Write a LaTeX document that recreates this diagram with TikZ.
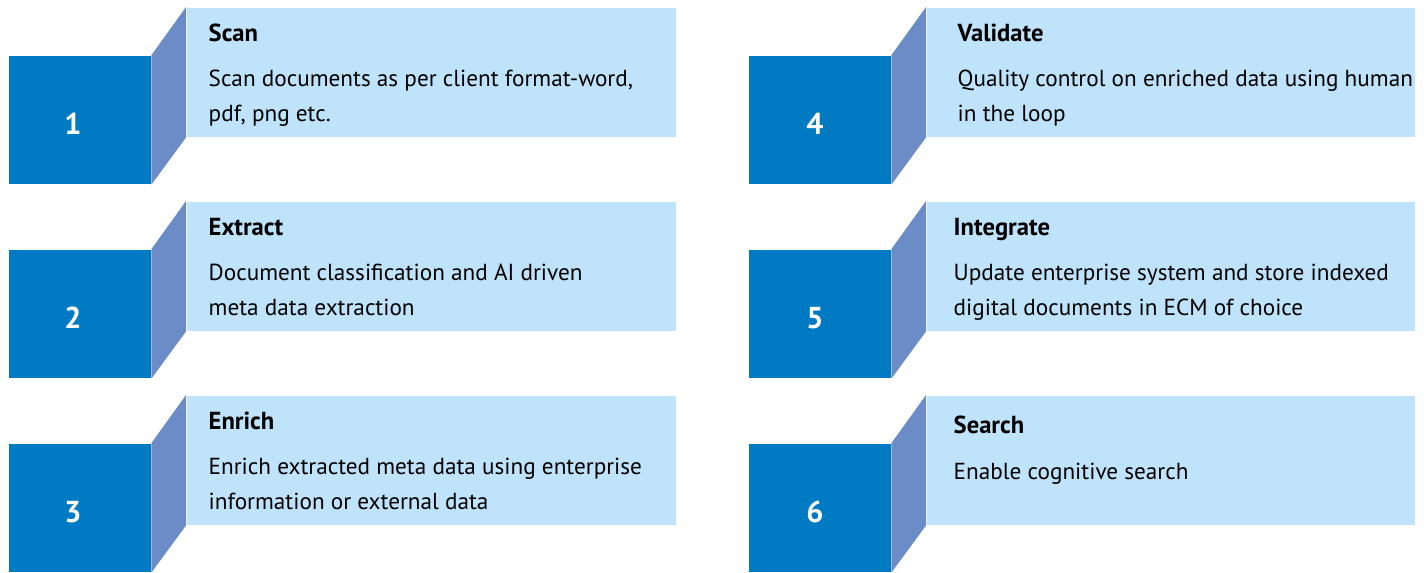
\documentclass[tikz,border=0pt]{standalone}
\usepackage{fontspec}
\setmainfont{PT Sans}
\usetikzlibrary{positioning}
\definecolor{step_blue}{RGB}{0, 122, 194}
\definecolor{side_blue}{RGB}{107, 140, 198}
\definecolor{pale_blue}{RGB}{190, 227, 251}

\begin{document}
\begin{tikzpicture}[
    x=0.01cm, y=-0.01cm,
    stepbox/.style={
        rectangle,
        fill=step_blue,
        minimum width=1.42cm,
        minimum height=1.28cm,
        inner sep=0pt,
        anchor=north west
    },
    panel/.style={
        rectangle,
        fill=pale_blue,
        minimum width=#1,
        minimum height=1.29cm,
        inner sep=0pt,
        anchor=north west
    },
    number/.style={
        text=white,
        inner sep=0pt,
        font=\bfseries\fontsize{8.6}{10}\selectfont
    },
    title/.style={
        anchor=base west,
        inner sep=0pt,
        font=\bfseries\fontsize{7.0}{9.7}\selectfont
    },
    % base of a two-line body is its last line
    body/.style={
        anchor=base west,
        inner sep=0pt,
        align=left,
        font=\fontsize{6.6}{9.7}\selectfont
    }
]
\useasboundingbox (0,0) rectangle (1424,572);

% Left column
\node[stepbox] (box1) at (8,55) {};
\node[panel=4.89cm] (pan1) at (186,7) {};
\fill[side_blue] (box1.north east) -- (pan1.north west) -- (pan1.south west) -- (box1.south east) -- cycle;
\node[number] (num1) at (73,124) {1};
\node[title] (head1) at (208,41) {Scan};
\node[body] (text1) at (208,121) {Scan documents as per client format-word,\\pdf, png etc.};

\node[stepbox] (box2) at (8,249) {};
\node[panel=4.89cm] (pan2) at (186,201) {};
\fill[side_blue] (box2.north east) -- (pan2.north west) -- (pan2.south west) -- (box2.south east) -- cycle;
\node[number] (num2) at (73,318) {2};
\node[title] (head2) at (208,235) {Extract};
\node[body] (text2) at (208,315) {Document classification and AI driven\\meta data extraction};

\node[stepbox] (box3) at (8,443) {};
\node[panel=4.89cm] (pan3) at (186,395) {};
\fill[side_blue] (box3.north east) -- (pan3.north west) -- (pan3.south west) -- (box3.south east) -- cycle;
\node[number] (num3) at (73,512) {3};
\node[title] (head3) at (208,429) {Enrich};
\node[body] (text3) at (208,509) {Enrich extracted meta data using enterprise\\information or external data};

% Right column
\node[stepbox] (box4) at (748,55) {};
\node[panel=4.88cm] (pan4) at (926,7) {};
\fill[side_blue] (box4.north east) -- (pan4.north west) -- (pan4.south west) -- (box4.south east) -- cycle;
\node[number] (num4) at (815,124) {4};
\node[title] (head4) at (957,41) {Validate};
\node[body] (text4) at (957,121) {Quality control on enriched data using human\\in the loop};

\node[stepbox] (box5) at (748,249) {};
\node[panel=4.88cm] (pan5) at (926,201) {};
\fill[side_blue] (box5.north east) -- (pan5.north west) -- (pan5.south west) -- (box5.south east) -- cycle;
\node[number] (num5) at (815,318) {5};
\node[title] (head5) at (953,235) {Integrate};
\node[body] (text5) at (953,315) {Update enterprise system and store indexed\\digital documents in ECM of choice};

\node[stepbox] (box6) at (748,443) {};
\node[panel=4.88cm] (pan6) at (926,395) {};
\fill[side_blue] (box6.north east) -- (pan6.north west) -- (pan6.south west) -- (box6.south east) -- cycle;
\node[number] (num6) at (815,512) {6};
\node[title] (head6) at (953,433) {Search};
\node[body] (text6) at (953,479) {Enable cognitive search};

\end{tikzpicture}
\end{document}
